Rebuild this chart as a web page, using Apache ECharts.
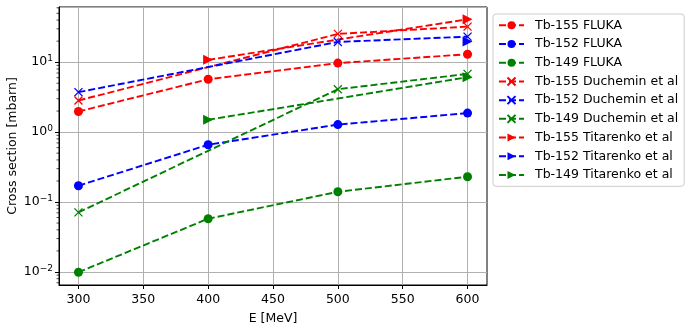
<!DOCTYPE html>
<html>
<head>
<meta charset="utf-8">
<script src="https://cdn.jsdelivr.net/npm/echarts@6/dist/echarts.min.js"></script>
<style>html,body{margin:0;padding:0;background:#fff}#c{width:690px;height:332px}</style>
</head>
<body>
<div id="c"></div>
<script>
// ---- data ----
const energies = [300, 400, 500, 600];
const tb155Fluka = [1.97, 5.7, 9.7, 13.0];
const tb152Fluka = [0.171, 0.66, 1.28, 1.87];
const tb149Fluka = [0.0099, 0.0577, 0.140, 0.23];
const duchE = [300, 500, 600];
const tb155Duch = [2.83, 25.4, 32.3];
const tb152Duch = [3.73, 19.5, 23.2];
const tb149Duch = [0.071, 4.11, 6.8];
const tb155TitE = [400, 600];
const tb155Tit = [10.8, 41.1];
const tb152TitE = [600];
const tb152Tit = [19.7];
const tb149TitE = [400, 600];
const tb149Tit = [1.50, 6.1];
const xTicks = [300, 350, 400, 450, 500, 550, 600];
const minorTickValues = [0.007,0.008,0.009,0.02,0.03,0.04,0.05,0.06,0.07,0.08,0.09,
  0.2,0.3,0.4,0.5,0.6,0.7,0.8,0.9,2,3,4,5,6,7,8,9,20,30,40,50,60];

const RED = '#ff0000', BLUE = '#0000ff', GREEN = '#008000';
const FONT = 'DejaVu Sans';
const X_PATH = 'path://M0,0L10,10M10,0L0,10';
const TRI_PATH = 'path://M0,0L10,5L0,10Z';

function pairs(xs, ys) { return xs.map((x, i) => [x, ys[i]]); }

function mk(name, xs, ys, color, kind) {
  const s = {
    name, type: 'line', data: pairs(xs, ys),
    lineStyle: { color, width: 1.9, type: [7, 3] },
    symbolKeepAspect: true,
    z: 3
  };
  if (kind === 'o') {
    s.symbol = 'circle'; s.symbolSize = 9;
    s.itemStyle = { color, borderWidth: 0 };
  } else if (kind === 'x') {
    s.symbol = X_PATH; s.symbolSize = 8;
    s.itemStyle = { color: 'none', borderColor: color, borderWidth: 1.3 };
  } else {
    s.symbol = TRI_PATH; s.symbolSize = 10;
    s.itemStyle = { color, borderWidth: 0 };
  }
  return s;
}

const series = [
  mk('Tb-155 FLUKA', energies, tb155Fluka, RED, 'o'),
  mk('Tb-152 FLUKA', energies, tb152Fluka, BLUE, 'o'),
  mk('Tb-149 FLUKA', energies, tb149Fluka, GREEN, 'o'),
  mk('Tb-155 Duchemin et al', duchE, tb155Duch, RED, 'x'),
  mk('Tb-152 Duchemin et al', duchE, tb152Duch, BLUE, 'x'),
  mk('Tb-149 Duchemin et al', duchE, tb149Duch, GREEN, 'x'),
  mk('Tb-155 Titarenko et al', tb155TitE, tb155Tit, RED, 't'),
  mk('Tb-152 Titarenko et al', tb152TitE, tb152Tit, BLUE, 't'),
  mk('Tb-149 Titarenko et al', tb149TitE, tb149Tit, GREEN, 't')
];

series.push({
  type: 'custom', name: 'minorTicks', silent: true, z: 5,
  data: minorTickValues.map(v => [285, v]),
  renderItem: function (params, api) {
    const p = api.coord([api.value(0), api.value(1)]);
    return { type: 'line', shape: { x1: p[0] - 2.5, y1: p[1], x2: p[0], y2: p[1] },
      style: { stroke: '#000', lineWidth: 0.7 } };
  }
});

const chart = echarts.init(document.getElementById('c'), null, { renderer: 'canvas' });
chart.setOption({
  animation: false,
  backgroundColor: '#fff',
  textStyle: { fontFamily: FONT },
  grid: { left: 59, top: 7, width: 428, height: 278, containLabel: false, outerBoundsMode: 'none',
    show: true, borderColor: '#000', borderWidth: 1, backgroundColor: 'transparent' },
  legend: {
    orient: 'vertical', left: 493, top: 14,
    data: series.slice(0, 9).map(s => s.name),
    itemWidth: 25, itemHeight: 10, itemGap: 4,
    padding: [4, 6, 4, 5],
    backgroundColor: '#fff', borderColor: '#cccccc', borderWidth: 1, borderRadius: 3,
    textStyle: { fontFamily: FONT, fontSize: 12.5, color: '#000', padding: [0, 0, 0, 6], lineHeight: 14.7 }
  },
  xAxis: {
    type: 'value', min: 285, max: 615,
    name: 'E [MeV]', nameLocation: 'middle', nameGap: 27, nameMoveOverlap: false,
    nameTextStyle: { fontFamily: FONT, fontSize: 12.5, color: '#000' },
    axisLine: { show: true, onZero: false, lineStyle: { color: '#000', width: 1 } },
    axisTick: { show: true, length: 4, lineStyle: { color: '#000' }, customValues: xTicks },
    axisLabel: { fontFamily: FONT, fontSize: 12.5, color: '#000', margin: 8, customValues: xTicks },
    splitLine: { show: true, lineStyle: { color: '#b0b0b0', width: 1 } }
  },
  yAxis: {
    type: 'log', logBase: 10, min: 0.0065, max: 61.6,
    name: 'Cross section [mbarn]', nameLocation: 'middle', nameGap: 40, nameRotate: 90, nameMoveOverlap: false,
    nameTextStyle: { fontFamily: FONT, fontSize: 12.5, color: '#000' },
    axisLine: { show: true, lineStyle: { color: '#000', width: 1 } },
    axisTick: { show: true, length: 4, lineStyle: { color: '#000' } },
    axisLabel: {
      fontFamily: FONT, fontSize: 12.5, color: '#000', margin: 6,
      showMinLabel: false, showMaxLabel: false,
      formatter: function (v) {
        const e = Math.round(Math.log10(v));
        if (Math.abs(Math.log10(v) - e) > 1e-6) return '';
        return '10{sup|' + String(e).replace('-', '\u2212') + '}';
      },
      rich: { sup: { fontSize: 9, verticalAlign: 'top', padding: [0, 0, 7, 0], fontFamily: FONT, color: '#000' } }
    },
    splitLine: { show: true, lineStyle: { color: '#b0b0b0', width: 1 } }
  },
  series
});
</script>
</body>
</html>
